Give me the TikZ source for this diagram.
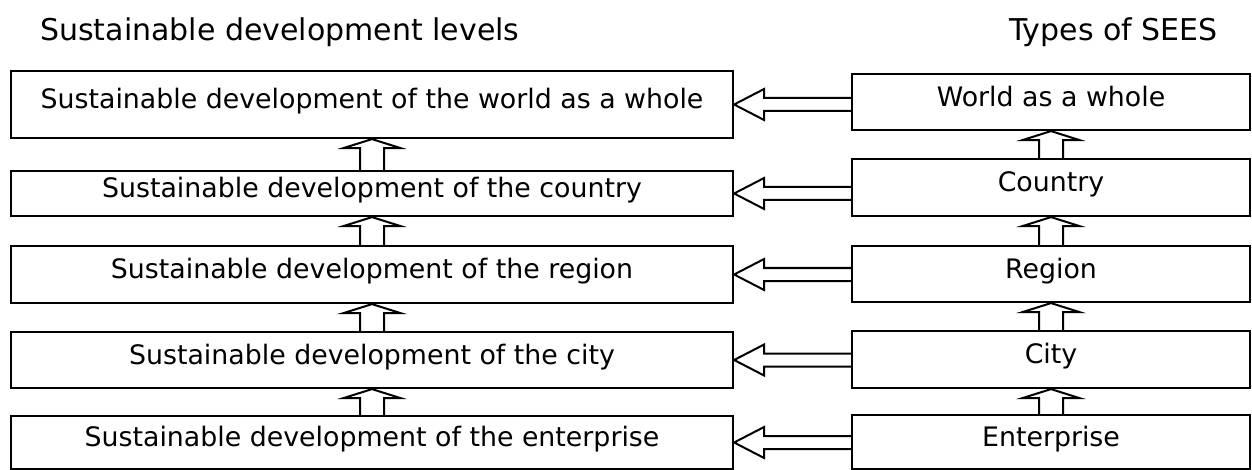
\documentclass[tikz,border=0pt]{standalone}
\usepackage{fontspec}
\setmainfont{DejaVu Sans}
\usetikzlibrary{calc}
\tikzset{
  box/.style={draw, line width=2.2pt, inner sep=0pt, text height=20.5pt, text depth=12pt, font=\fontsize{26.8}{31}\selectfont},
  arr/.style={draw, line width=2pt, line join=miter},
  ttl/.style={font=\fontsize{30}{36}\selectfont, inner sep=0pt}
}
\newcommand\harrow[2]{\draw[arr] let \p1=(#1.east), \p2=(#2.west) in
  (\x2,\y1+6.5pt) -- (\x1+30pt,\y1+6.5pt) -- (\x1+30pt,\y1+15.5pt) -- (\x1,\y1)
  -- (\x1+30pt,\y1-15.5pt) -- (\x1+30pt,\y1-6.5pt) -- (\x2,\y1-6.5pt);}
\newcommand\varrow[2]{\draw[arr] let \p1=(#1.south), \p2=(#2.north) in
  (\x1-12pt,\y2) -- (\x1-12pt,\y1-9pt) -- (\x1-28.5pt,\y1-9pt) -- (\x1,\y1)
  -- (\x1+28.5pt,\y1-9pt) -- (\x1+12pt,\y1-9pt) -- (\x1+12pt,\y2);}
\begin{document}
\begin{tikzpicture}[x=1pt,y=-1pt]
\useasboundingbox[fill=white] (0,0) rectangle (1252,470);
\node[ttl, anchor=west] (t1) at (40,32) {Sustainable development levels};
\node[ttl, anchor=east] (t2) at (1218,32) {Types of SEES};
% left boxes
\node[box, minimum width=722pt, minimum height=67pt] (L1) at (372,104.5) {Sustainable development of the world as a whole};
\node[box, minimum width=722pt, minimum height=45pt] (L2) at (372,193.5) {Sustainable development of the country};
\node[box, minimum width=722pt, minimum height=57pt] (L3) at (372,274.5) {Sustainable development of the region};
\node[box, minimum width=722pt, minimum height=56pt] (L4) at (372,360) {Sustainable development of the city};
\node[box, minimum width=722pt, minimum height=53pt] (L5) at (372,442.5) {Sustainable development of the enterprise};
% right boxes
\node[box, minimum width=398pt, minimum height=56pt] (R1) at (1051,102) {World as a whole};
\node[box, minimum width=398pt, minimum height=57pt] (R2) at (1051,187.5) {Country};
\node[box, minimum width=398pt, minimum height=56pt] (R3) at (1051,274) {Region};
\node[box, minimum width=398pt, minimum height=57pt] (R4) at (1051,359.5) {City};
\node[box, minimum width=398pt, minimum height=54pt] (R5) at (1051,442) {Enterprise};
% horizontal arrows
\harrow{L1}{R1}
\harrow{L2}{R2}
\harrow{L3}{R3}
\harrow{L4}{R4}
\harrow{L5}{R5}
% vertical arrows
\varrow{L1}{L2}
\varrow{L2}{L3}
\varrow{L3}{L4}
\varrow{L4}{L5}
\varrow{R1}{R2}
\varrow{R2}{R3}
\varrow{R3}{R4}
\varrow{R4}{R5}
\end{tikzpicture}
\end{document}
